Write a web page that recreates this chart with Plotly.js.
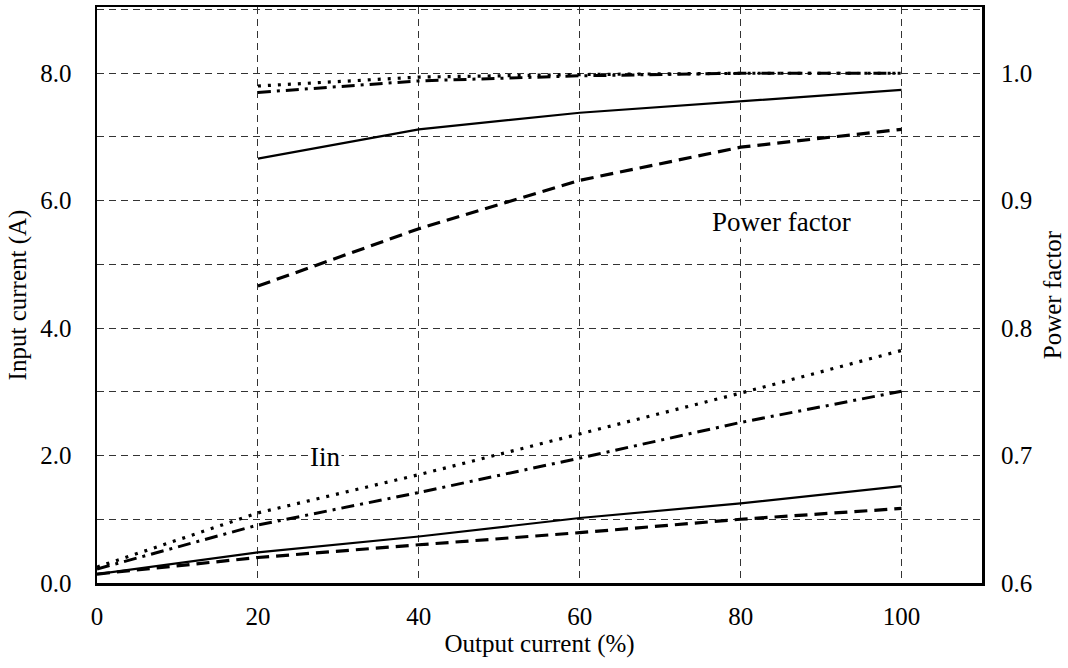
<!DOCTYPE html>
<html>
<head>
<meta charset="utf-8">
<script src="https://cdn.plot.ly/plotly-3.0.1.min.js"></script>
<style>html,body{margin:0;padding:0;background:#fff;}#chart{width:1068px;height:668px;}</style>
</head>
<body>
<div id="chart"></div>
<script>
// Output current (%)
const xPF = [20, 40, 60, 80, 100];
const xIin = [0, 20, 40, 60, 80, 100];

// Power factor curves (right axis)
const pfSolid   = [0.933, 0.956, 0.969, 0.978, 0.987];
const pfDashed  = [0.833, 0.878, 0.916, 0.942, 0.956];
const pfDotted  = [0.990, 0.997, 0.999, 1.000, 1.000];
const pfDashDot = [0.985, 0.994, 0.998, 1.000, 1.000];

// Input current curves (A, left axis)
const iinDotted  = [0.25, 1.10, 1.70, 2.34, 2.98, 3.65];
const iinDashDot = [0.22, 0.91, 1.42, 1.96, 2.52, 3.01];
const iinSolid   = [0.14, 0.48, 0.73, 1.02, 1.25, 1.52];
const iinDashed  = [0.14, 0.40, 0.60, 0.79, 1.00, 1.17];

const xTicks = [0, 20, 40, 60, 80, 100];
const yTicks = [0, 2, 4, 6, 8];
const pfTicks = [0.6, 0.7, 0.8, 0.9, 1.0];

const FONT = '"Liberation Serif", "Times New Roman", serif';
const styles = {
  solid:   {color: '#000', width: 2.2, dash: 'solid'},
  dashed:  {color: '#000', width: 3.2, dash: '13px,7px'},
  dotted:  {color: '#000', width: 3.2, dash: '3px,7px'},
  dashdot: {color: '#000', width: 3.0, dash: '13px,6px,3px,6px'}
};

function tr(x, y, st, axis) {
  return {x: x, y: y, type: 'scatter', mode: 'lines', line: st, yaxis: axis, hoverinfo: 'skip', showlegend: false};
}

const data = [
  tr(xIin, iinSolid, styles.solid, 'y'),
  tr(xIin, iinDashed, styles.dashed, 'y'),
  tr(xIin, iinDotted, styles.dotted, 'y'),
  tr(xIin, iinDashDot, styles.dashdot, 'y'),
  tr(xPF, pfSolid, styles.solid, 'y2'),
  tr(xPF, pfDashed, styles.dashed, 'y2'),
  tr(xPF, pfDotted, styles.dotted, 'y2'),
  tr(xPF, pfDashDot, styles.dashdot, 'y2')
];

const layout = {
  width: 1068, height: 668,
  margin: {l: 97, r: 86, t: 7, b: 85},
  paper_bgcolor: '#fff', plot_bgcolor: '#fff',
  font: {family: FONT, size: 25, color: '#000'},
  xaxis: {
    range: [0, 110], tickvals: xTicks, ticktext: xTicks.map(String),
    showgrid: true, gridcolor: '#333', gridwidth: 1, griddash: '7px,5px',
    zeroline: false, showline: true, linecolor: '#000', linewidth: 2.5, mirror: true,
    ticks: '', ticklabelstandoff: 9,
    tickfont: {family: FONT, size: 25},
    title: {text: 'Output current (%)', font: {family: FONT, size: 25}, standoff: 0}
  },
  yaxis: {
    range: [0, 9.04], tickvals: yTicks, ticktext: yTicks.map(v => v.toFixed(1)),
    showgrid: true, gridcolor: '#333', gridwidth: 1, griddash: '7px,5px',
    minor: {dtick: 1, tick0: 0, showgrid: true, gridcolor: '#333', gridwidth: 1, griddash: '7px,5px', ticks: ''},
    zeroline: false, showline: true, linecolor: '#000', linewidth: 2.5, mirror: true,
    ticks: '', ticklabelstandoff: 18,
    tickfont: {family: FONT, size: 25},
    title: {text: 'Input current (A)', font: {family: FONT, size: 25}, standoff: 7}
  },
  yaxis2: {
    overlaying: 'y', side: 'right',
    range: [0.6, 0.6 + 9.04 / 20], tickvals: pfTicks, ticktext: pfTicks.map(v => v.toFixed(1)),
    showgrid: false, zeroline: false, showline: false,
    ticks: '', ticklabelstandoff: 18,
    tickfont: {family: FONT, size: 25},
    title: {text: 'Power factor', font: {family: FONT, size: 25}, standoff: 12}
  },
  annotations: [
    {x: 28.3, y: 1.98, xref: 'x', yref: 'y', text: 'Iin', showarrow: false, font: {family: FONT, size: 27}, bgcolor: '#fff'},
    {x: 85.1, y: 0.6 + 5.67 / 20, xref: 'x', yref: 'y2', text: 'Power factor', showarrow: false, font: {family: FONT, size: 27}, bgcolor: '#fff'}
  ]
};

Plotly.newPlot('chart', data, layout, {staticPlot: true, displayModeBar: false});
</script>
</body>
</html>
